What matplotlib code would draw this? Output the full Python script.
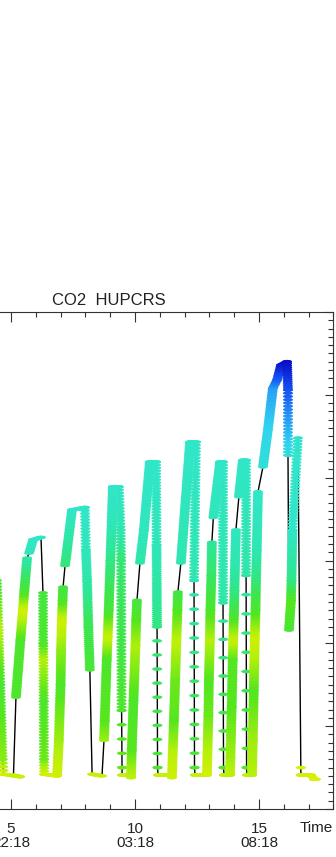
import numpy as np
import matplotlib
matplotlib.use("Agg")
import matplotlib.pyplot as plt
from matplotlib.path import Path
from matplotlib.colors import LinearSegmentedColormap
from matplotlib.ticker import MultipleLocator

plt.rcParams['font.family'] = ['Liberation Sans', 'DejaVu Sans']

# track nodes in time order: time index, CO2, colour value, and the number of
# samples drawn between this node and the next one (0 = plain line only)
node_t = [4.43, 4.50, 4.57, 4.66, 4.70, 5.36, 5.10,            # A + ground
          5.20, 5.38, 5.48, 5.54, 5.65, 5.73, 5.89, 6.21,      # B + cap
          6.29, 6.30, 6.31, 6.32, 6.33, 6.34,                  # C
          6.86, 6.93, 7.00, 7.02, 7.05, 7.08, 7.10,            # D
          7.18, 7.46, 7.98,                                    # E
          8.02, 8.07, 8.12, 8.18, 8.27, 8.67,                  # F
          8.75, 8.78, 8.86, 8.90, 8.94, 9.01, 9.06, 9.11, 9.35,  # G
          9.42, 9.44, 9.46, 9.48, 9.48, 9.76,                  # H
          9.84, 9.87, 9.94, 10.02, 10.05, 10.08,               # I
          10.20, 10.36, 10.60, 10.85,                          # J
          10.87, 10.89, 10.91, 10.93, 11.41,                   # K
          11.49, 11.52, 11.57, 11.62, 11.67, 11.71, 11.73,     # L
          11.85, 12.22, 12.46,                                 # M
          12.38, 12.40, 12.42, 12.82,                          # N
          12.90, 12.92, 12.96, 12.98, 13.02, 13.04, 13.08, 13.10,  # O
          13.16, 13.43, 13.55,                                 # P
          13.55, 13.57, 13.59,                                 # Q
          13.83, 13.85, 13.90, 13.94, 13.96, 13.99, 14.01, 14.04, 14.07,  # R
          14.19, 14.35, 14.48,                                 # S
          14.48, 14.50, 14.52,                                 # T
          14.72, 14.75, 14.79, 14.81, 14.83, 14.86, 14.88, 14.91, 14.96,  # U
          15.16, 15.36, 15.56, 15.73, 15.89, 16.13,            # V
          16.17, 16.17, 16.21,                                 # W
          16.29, 16.31, 16.35, 16.57,                          # X/Y
          16.69, 16.69, 17.10, 17.22, 17.30]                   # last landing
node_y = [397.6, 391.6, 385.0, 376.0, 374.2, 373.9, 374.1,
          383.5, 390.4, 394.0, 396.4, 400.3, 400.9, 402.5, 402.8,
          396.1, 390.0, 388.0, 383.0, 376.0, 374.2,
          374.0, 378.3, 385.0, 389.2, 392.8, 395.2, 396.8,
          399.4, 406.1, 406.4,
          401.3, 397.6, 392.0, 386.8, 374.2, 374.0,
          378.3, 380.7, 388.0, 390.8, 394.0, 400.0, 404.6, 408.9, 408.9,
          403.7, 400.0, 381.9, 375.0, 374.1, 374.1,
          373.8, 377.1, 383.1, 389.8, 392.8, 395.2,
          399.7, 403.7, 411.9, 411.9,
          401.9, 392.0, 375.0, 374.1, 374.1,
          373.8, 376.5, 380.7, 385.6, 390.4, 394.0, 396.2,
          399.7, 414.3, 414.3,
          397.6, 375.0, 374.1, 374.1,
          374.1, 376.5, 381.3, 385.6, 390.4, 394.0, 398.2, 402.2,
          405.2, 411.9, 411.9,
          394.9, 375.0, 374.1,
          374.1, 376.3, 382.3, 388.0, 390.4, 393.4, 396.4, 400.0, 403.7,
          407.7, 412.1, 412.1,
          398.2, 375.0, 374.1,
          374.1, 378.3, 384.3, 387.4, 390.4, 394.0, 397.6, 401.3, 408.3,
          411.3, 415.8, 420.8, 421.8, 423.6, 424.0,
          420.6, 412.7, 391.6,
          395.2, 397.6, 403.7, 414.8,
          375.0, 374.1, 374.1, 373.6, 373.6]
node_c = [0.30, 0.12, 0.30, 0.18, 0.05, 0.08, 0.08,
          0.28, 0.28, 0.05, 0.30, 0.48, 0.52, 0.54, 0.55,
          0.32, 0.28, 0.12, 0.28, 0.22, 0.05,
          0.05, 0.15, 0.28, 0.18, 0.06, 0.28, 0.32,
          0.40, 0.55, 0.55,
          0.52, 0.48, 0.35, 0.30, 0.06, 0.08,
          0.15, 0.25, 0.28, 0.08, 0.30, 0.42, 0.52, 0.55, 0.55,
          0.50, 0.40, 0.28, 0.22, 0.08, 0.08,
          0.10, 0.25, 0.28, 0.13, 0.25, 0.32,
          0.48, 0.53, 0.55, 0.55,
          0.52, 0.42, 0.28, 0.08, 0.08,
          0.06, 0.10, 0.25, 0.22, 0.10, 0.26, 0.33,
          0.50, 0.55, 0.55,
          0.50, 0.28, 0.08, 0.08,
          0.05, 0.10, 0.22, 0.26, 0.12, 0.28, 0.38, 0.45,
          0.52, 0.55, 0.55,
          0.48, 0.26, 0.08,
          0.10, 0.15, 0.25, 0.26, 0.08, 0.30, 0.42, 0.50, 0.53,
          0.53, 0.55, 0.55,
          0.48, 0.26, 0.08,
          0.12, 0.15, 0.26, 0.15, 0.06, 0.28, 0.40, 0.50, 0.55,
          0.58, 0.64, 0.75, 0.85, 0.97, 1.00,
          0.88, 0.60, 0.30,
          0.25, 0.42, 0.55, 0.56,
          0.04, 0.04, 0.04, 0.03, 0.03]
node_n = [16, 18, 25, 4, 7, 3, 0,
          38, 20, 13, 21, 0, 9, 5, 0,
          17, 6, 14, 19, 5, 7,
          23, 36, 23, 20, 13, 9, 0,
          37, 8, 14,
          15, 24, 22, 0, 6, 0,
          13, 40, 15, 18, 33, 25, 24, 4, 14,
          10, 45, 4, 1, 4, 2,
          18, 33, 37, 17, 13, 0,
          22, 45, 4, 28,
          40, 10, 1, 7, 1,
          15, 23, 27, 27, 20, 12, 0,
          80, 4, 44,
          13, 1, 6, 1,
          13, 27, 23, 27, 20, 23, 22, 0,
          37, 2, 47,
          9, 1, 4,
          12, 33, 31, 13, 17, 17, 20, 20, 0,
          25, 2, 38,
          10, 1, 3,
          23, 33, 17, 17, 20, 20, 20, 39, 0,
          25, 28, 6, 10, 4, 14,
          20, 0, 20,
          13, 33, 30, 0,
          1, 5, 2, 1, 0]

x_ticks = [5, 10, 15]
x_labels = ['5\n22:18', '10\n03:18', '15\n08:18']

colours = ['#e4f000', '#b4f00a', '#55e61e', '#3ce650', '#2ee69a',
           '#30e6c8', '#30d2f0', '#28a0f5', '#1450f0', '#0a0fc8']
stops = [0.0, 0.12, 0.25, 0.35, 0.45, 0.55, 0.65, 0.75, 0.88, 1.0]
cmap = LinearSegmentedColormap.from_list('track', list(zip(stops, colours)))

# samples along each stretch of the track
ts, ys, cs = [], [], []
for i in range(len(node_t) - 1):
    n = node_n[i]
    if n == 0:
        continue
    f = np.linspace(0, 1, n + 1)
    ts.append(node_t[i] + f * (node_t[i + 1] - node_t[i]))
    ys.append(node_y[i] + f * (node_y[i + 1] - node_y[i]))
    cs.append(node_c[i] + f * (node_c[i + 1] - node_c[i]))
ts = np.concatenate(ts)
ys = np.concatenate(ys)
cs = np.concatenate(cs)

th = np.linspace(0, 2 * np.pi, 41)
oval = Path(np.column_stack([np.cos(th), 0.36 * np.sin(th)]))

fig = plt.figure(figsize=(3.36, 8.57), dpi=100)
ax = fig.add_axes([-0.0411, 0.0560, 1.0333, 0.5799])

ax.plot(node_t, node_y, color='black', lw=1.0, zorder=1)
ax.scatter(ts, ys, c=cs, cmap=cmap, vmin=0, vmax=1, marker=oval, s=52,
           linewidths=0, zorder=2)

ax.set_xlim(4, 18)
ax.set_ylim(370, 430)
ax.set_xticks(x_ticks)
ax.set_xticklabels(x_labels, fontsize=11, color='#222222', linespacing=1.02)
ax.xaxis.set_minor_locator(MultipleLocator(1))
ax.set_yticks(np.arange(370, 431, 10))
ax.yaxis.set_minor_locator(MultipleLocator(1))
ax.tick_params(which='both', direction='in', top=True, right=True,
               labelleft=False, color='#333333', width=0.8)
ax.tick_params(axis='x', which='major', length=7.2, pad=9.5)
ax.tick_params(axis='x', which='minor', length=3.3)
ax.tick_params(axis='y', which='major', length=5.8)
ax.tick_params(axis='y', which='minor', length=3.3)
for sp in ax.spines.values():
    sp.set_linewidth(0.8)
    sp.set_color('#333333')

fig.text(333 / 336, (857 - 832) / 857, 'Time', fontsize=11, color='#222222',
         ha='right', va='baseline')
fig.text(52 / 336, (857 - 305) / 857, 'CO2  HUPCRS', fontsize=12,
         color='#222222', ha='left', va='baseline')

fig.savefig('out.png', dpi=100)
